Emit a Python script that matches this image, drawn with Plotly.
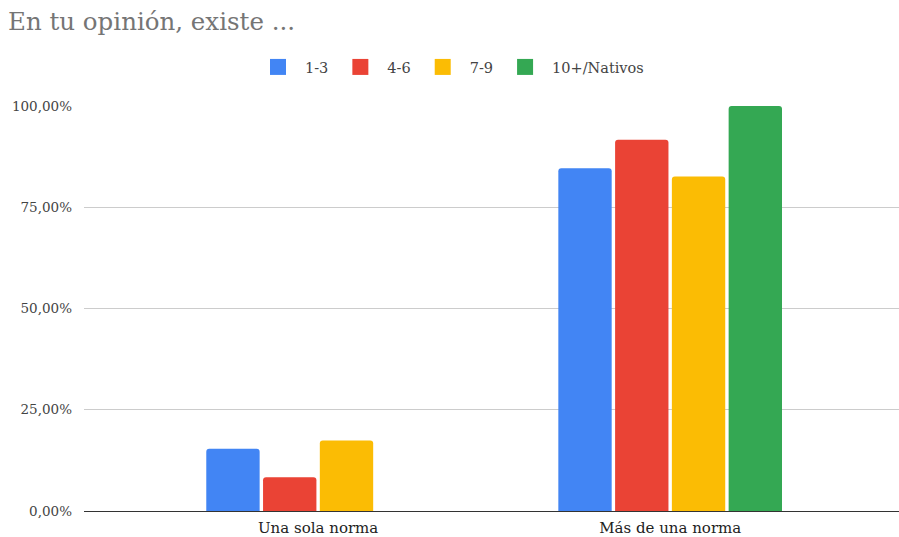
import plotly.graph_objects as go

# Survey answers: share of respondents per group
categories = ["Una sola norma", "Más de una norma"]
groups = ["1-3", "4-6", "7-9", "10+/Nativos"]
values = {
    "1-3": [2 / 13, 11 / 13],
    "4-6": [1 / 12, 11 / 12],
    "7-9": [4 / 23, 19 / 23],
    "10+/Nativos": [0.0, 1.0],
}
colors = {
    "1-3": "#4285F4",
    "4-6": "#EA4335",
    "7-9": "#FBBC04",
    "10+/Nativos": "#34A853",
}
y_ticks = [0, 0.25, 0.5, 0.75, 1.0]

serif = "DejaVu Serif"

fig = go.Figure()
for g in groups:
    fig.add_trace(go.Bar(
        name=g,
        x=categories,
        y=values[g],
        marker=dict(color=colors[g], cornerradius=3, line=dict(width=0)),
        showlegend=False,
        hoverinfo="x+y+name",
    ))
    # legend entry with a larger square swatch
    fig.add_trace(go.Scatter(
        name=g,
        x=[None],
        y=[None],
        mode="markers",
        marker=dict(symbol="square", size=19, color=colors[g]),
        showlegend=True,
        hoverinfo="skip",
    ))

fig.update_layout(
    width=899,
    height=537,
    barmode="group",
    bargap=0.355,
    bargroupgap=0.06,
    separators=",.",
    plot_bgcolor="white",
    paper_bgcolor="white",
    margin=dict(l=84, r=0, t=106, b=26, autoexpand=False),
    font=dict(family=serif, size=13, color="#444444"),
    title=dict(
        text="En tu opinión, existe ...",
        font=dict(family=serif, size=24.5, color="#757575"),
        xref="container", yref="container",
        x=8 / 899, xanchor="left",
        y=1 - 21 / 537, yanchor="middle",
    ),
    legend=dict(
        orientation="h",
        xref="container", yref="container",
        x=450 / 899, xanchor="center",
        y=1 - 67 / 537, yanchor="middle",
        font=dict(family=serif, size=14.5, color="#444444"),
        itemsizing="trace",
        itemwidth=44,
        traceorder="normal",
    ),
    xaxis=dict(
        type="category",
        range=[-0.665, 1.65],
        showgrid=False,
        showline=True,
        linecolor="#333333",
        linewidth=1,
        ticks="",
        ticklabelstandoff=3,
        tickfont=dict(family=serif, size=15, color="#222222"),
        automargin=False,
    ),
    yaxis=dict(
        range=[0, 1.0],
        tickvals=y_ticks,
        tickformat=".2%",
        showgrid=True,
        gridcolor="#CCCCCC",
        gridwidth=1,
        zeroline=False,
        ticks="",
        ticklabelstandoff=11,
        tickfont=dict(family=serif, size=13.5, color="#444444"),
        automargin=False,
    ),
)

fig.write_html("out.html")
